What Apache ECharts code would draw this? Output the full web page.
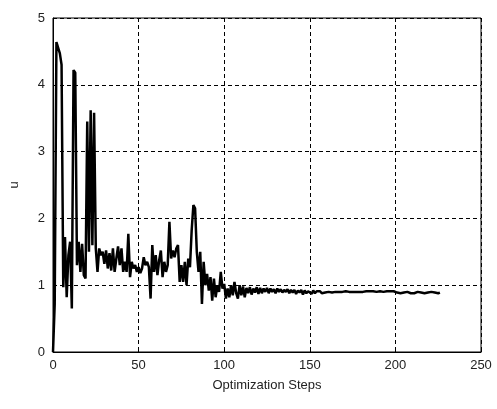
<!DOCTYPE html>
<html>
<head>
<meta charset="utf-8">
<script src="https://cdn.jsdelivr.net/npm/echarts@6/dist/echarts.min.js"></script>
<style>
  html, body { margin: 0; padding: 0; background: #fff; }
  #chart { width: 497px; height: 409px; }
</style>
</head>
<body>
<div id="chart"></div>
<script>
// u value recorded at each optimization step (step = array index)
const uSteps0 = [
  0, 0.72, 4.64, 4.62, 4.47, 4.3, 0.97, 1.72, 0.82, 1.45,
  1.65, 0.65, 4.22, 4.18, 1.3, 1.65, 1.2, 1.62, 1.15, 1.1,
  3.45, 1.5, 3.62, 1.6, 3.58, 1.55, 1.2, 1.55, 1.45, 1.5,
  1.32, 1.52, 1.25, 1.48, 1.22, 1.55, 1.2, 1.4, 1.58, 1.3,
  1.55, 1.2, 1.35, 1.2, 1.77, 1.12, 1.35, 1.25, 1.3, 1.2
];
const uSteps50 = [
  1.27, 1.18, 1.25, 1.42, 1.3, 1.35, 1.27, 0.8, 1.6, 1.2,
  1.45, 1.15, 1.37, 1.52, 1.12, 1.35, 1.2, 1.3, 1.95, 1.4,
  1.52, 1.42, 1.55, 1.6, 1.05, 1.3, 1.05, 1.35, 1.0, 1.4,
  1.27, 1.82, 2.2, 2.15, 1.5, 1.2, 1.5, 0.72, 1.35, 1.0,
  1.17, 0.92, 1.12, 0.77, 1.1, 0.82, 1.0, 0.9, 1.2, 0.95
];
const uSteps100 = [
  1.02, 0.8, 0.95, 0.82, 1.0, 0.85, 1.05, 0.88, 0.8, 1.0,
  0.85, 0.98, 0.82, 0.96, 0.88, 0.97, 0.86, 0.95, 0.89, 0.97,
  0.87, 0.96, 0.88, 0.95, 0.9, 0.96, 0.88, 0.95, 0.9, 0.94,
  0.88, 0.95, 0.9, 0.94, 0.89, 0.93, 0.9, 0.94, 0.88, 0.93,
  0.89, 0.93, 0.87, 0.92, 0.89, 0.93, 0.86, 0.92, 0.88, 0.91
];
const uSteps150 = [
  0.91, 0.87, 0.92, 0.88, 0.91, 0.89, 0.91, 0.88, 0.9, 0.89,
  0.91, 0.9, 0.9, 0.89, 0.9, 0.9, 0.9, 0.9, 0.89, 0.9,
  0.9, 0.91, 0.9, 0.9, 0.89, 0.9, 0.91, 0.9, 0.89, 0.9,
  0.91, 0.9, 0.9, 0.91, 0.9, 0.91, 0.9, 0.91, 0.91, 0.9,
  0.91, 0.91, 0.91, 0.9, 0.91, 0.91, 0.91, 0.91, 0.9, 0.91
];
const uSteps200 = [
  0.9, 0.89, 0.9, 0.88, 0.9, 0.89, 0.88, 0.9, 0.89, 0.88,
  0.9, 0.88, 0.89, 0.9, 0.88, 0.89, 0.9, 0.88, 0.9, 0.89,
  0.88, 0.9, 0.88, 0.89, 0.9, 0.88, 0.89
];

const xTicks = [0, 50, 100, 150, 200, 250];
const yTicks = [0, 1, 2, 3, 4, 5];

const uValues = [].concat(uSteps0, uSteps50, uSteps100, uSteps150, uSteps200);
const seriesData = uValues.map((v, i) => [i, v]);

const chart = echarts.init(document.getElementById('chart'), null, { renderer: 'canvas' });

const labelFont = {
  fontFamily: 'Liberation Sans, Arial, sans-serif',
  fontSize: 13,
  color: '#222'
};

chart.setOption({
  animation: false,
  backgroundColor: '#fff',
  grid: {
    left: 51, right: 16, top: 18, bottom: 57,
    show: true, borderColor: '#000', borderWidth: 1, backgroundColor: 'transparent'
  },
  xAxis: {
    type: 'value',
    min: xTicks[0], max: xTicks[xTicks.length - 1], interval: 50,
    name: 'Optimization Steps',
    nameLocation: 'middle',
    nameGap: 27,
    nameTextStyle: labelFont,
    axisLine: { show: true, onZero: false, lineStyle: { color: '#000', width: 1 } },
    axisTick: { show: true, inside: true, length: 4, lineStyle: { color: '#000' } },
    axisLabel: Object.assign({ margin: 7 }, labelFont),
    splitLine: { show: true, lineStyle: { color: '#000', type: [4, 3], width: 1 } }
  },
  yAxis: {
    type: 'value',
    min: yTicks[0], max: yTicks[yTicks.length - 1], interval: 1,
    name: 'u',
    nameLocation: 'middle',
    nameGap: 32,
    nameRotate: 90,
    nameTextStyle: labelFont,
    axisLine: { show: true, lineStyle: { color: '#000', width: 1 } },
    axisTick: { show: true, inside: true, length: 4, lineStyle: { color: '#000' } },
    axisLabel: Object.assign({ margin: 8 }, labelFont),
    splitLine: { show: true, lineStyle: { color: '#000', type: [4, 3], width: 1 } }
  },
  series: [{
    type: 'line',
    data: seriesData,
    showSymbol: false,
    symbol: 'none',
    lineStyle: { color: '#000', width: 2.5, join: 'bevel' },
    z: 3
  }]
});
</script>
</body>
</html>
